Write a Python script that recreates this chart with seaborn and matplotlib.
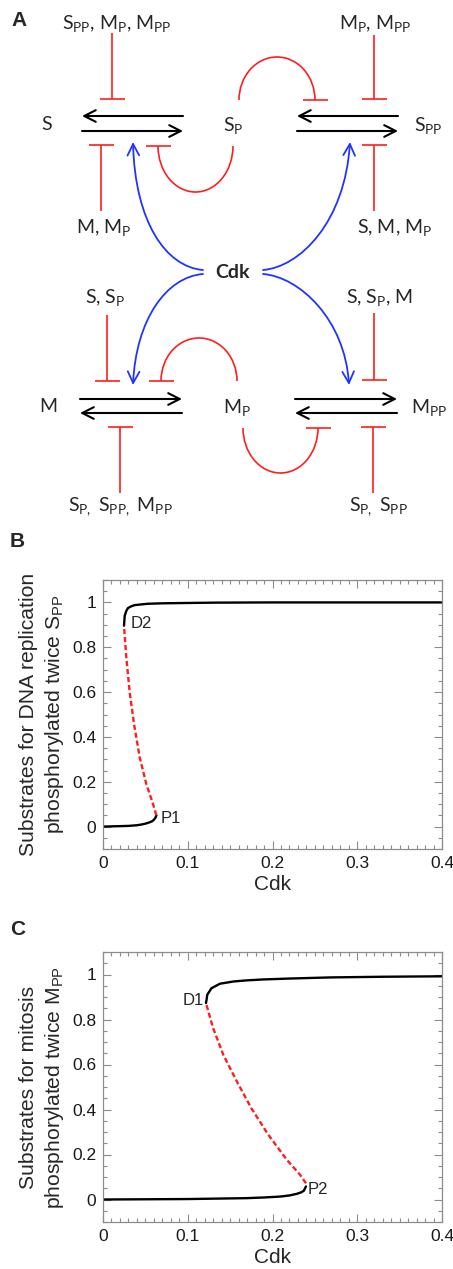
import matplotlib
matplotlib.use("Agg")
import matplotlib.pyplot as plt
import seaborn as sns
from matplotlib.patches import Arc, FancyArrowPatch
from matplotlib.path import Path
from matplotlib.ticker import MultipleLocator

# ---------------------------------------------------------------------------
# Panel A: network diagram (positions in image pixels, y down)
# ---------------------------------------------------------------------------
node_labels = ["S", "S$_{P}$", "S$_{PP}$", "M", "M$_{P}$", "M$_{PP}$"]
node_x = [47, 233, 428, 48, 237, 429]
node_y = [125, 126, 125, 407, 408, 407]

# reversible reactions drawn as two opposite arrows
rxn_tail_x = [183, 82, 398, 297, 80, 182, 295, 397]
rxn_head_x = [82, 183, 297, 398, 182, 80, 397, 295]
rxn_y = [116, 131, 116, 131, 399, 413, 399, 413]

# inhibitions by other species
inh_x = [112, 374, 101, 374, 107, 374, 120, 373]
inh_bar_y = [99, 99, 145, 145, 381, 380, 427, 427]
inh_end_y = [33, 35, 211, 211, 315, 313, 493, 493]
inh_labels = ["S$_{PP}$, M$_{P}$, M$_{PP}$", "M$_{P}$, M$_{PP}$",
              "M, M$_{P}$", "S, M, M$_{P}$",
              "S, S$_{P}$", "S, S$_{P}$, M",
              "S$_{P,}$ S$_{PP,}$ M$_{PP}$", "S$_{P,}$ S$_{PP}$"]
inh_label_x = [117, 375, 104, 395, 105, 380, 120, 378]
inh_label_y = [23, 23, 227, 227, 297, 297, 507, 507]

# self-inhibition loops from the intermediates
fb_cx = [277, 195.5, 199, 280.5]
fb_rx = [38, 37.5, 38, 37.5]
fb_base = [100, 146, 381, 428]
fb_peak = [57, 192, 338, 473]
fb_bar_x = [315, 158, 161, 318]

# Cdk activation (cubic curves)
cdk_pos = (233, 272)
cdk_curves = [
    [(203, 270), (166, 267), (135, 222), (133, 142)],
    [(263, 270), (300, 267), (345, 222), (350, 142)],
    [(203, 274), (166, 277), (136, 320), (133, 385)],
    [(263, 274), (300, 277), (345, 320), (349, 385)],
]

# ---------------------------------------------------------------------------
# Panels B, C: bifurcation diagrams
# ---------------------------------------------------------------------------
b_lower_x = [0.0, 0.01, 0.02, 0.03, 0.04, 0.045, 0.05, 0.055, 0.058, 0.060, 0.062, 0.063]
b_lower_y = [0.0, 0.001, 0.002, 0.003, 0.006, 0.009, 0.013, 0.019, 0.024, 0.030, 0.040, 0.050]
b_unst_x = [0.063, 0.0621, 0.059, 0.0511, 0.0433, 0.0366, 0.0315, 0.0275, 0.0248]
b_unst_y = [0.050, 0.061, 0.101, 0.190, 0.309, 0.458, 0.599, 0.755, 0.896]
b_upper_x = [0.0248, 0.0256, 0.0275, 0.0295, 0.0335, 0.0374, 0.045, 0.053, 0.07,
             0.0885, 0.11, 0.132, 0.2, 0.3, 0.4]
b_upper_y = [0.896, 0.94, 0.962, 0.975, 0.983, 0.988, 0.991, 0.994, 0.996,
             0.997, 0.998, 0.999, 1.0, 1.0, 1.0]

c_lower_x = [0.0, 0.05, 0.1, 0.1695, 0.19, 0.209, 0.22, 0.2285, 0.234, 0.237, 0.2395]
c_lower_y = [0.0, 0.001, 0.002, 0.006, 0.009, 0.013, 0.018, 0.025, 0.032, 0.039, 0.058]
c_unst_x = [0.2395, 0.2325, 0.217, 0.195, 0.175, 0.158, 0.142, 0.130, 0.1255, 0.1215]
c_unst_y = [0.072, 0.110, 0.176, 0.288, 0.406, 0.524, 0.643, 0.761, 0.82, 0.873]
c_upper_x = [0.1215, 0.1225, 0.123, 0.128, 0.138, 0.154, 0.17, 0.189, 0.22, 0.268, 0.33, 0.4]
c_upper_y = [0.873, 0.895, 0.91, 0.939, 0.959, 0.969, 0.974, 0.978, 0.982, 0.987, 0.990, 0.992]

x_ticks = [0, 0.1, 0.2, 0.3, 0.4]
x_ticklabels = ["0", "0.1", "0.2", "0.3", "0.4"]
y_ticks = [0, 0.2, 0.4, 0.6, 0.8, 1.0]
y_ticklabels = ["0", "0.2", "0.4", "0.6", "0.8", "1"]

RED = "#ff1e1e"
BLUE = "#1f35ff"
FRAME = "#8c8c8c"

sns.set_style("white")
plt.rcParams["font.family"] = ["Liberation Sans", "DejaVu Sans"]
plt.rcParams["mathtext.default"] = "regular"

W, H = 453, 1269
fig = plt.figure(figsize=(W / 100, H / 100), dpi=100)

# full-figure canvas in pixel units for the diagram and panel letters
ax_a = fig.add_axes([0, 0, 1, 1])
ax_a.set_xlim(0, W)
ax_a.set_ylim(H, 0)
ax_a.axis("off")

diag_font = dict(family=["Lato", "DejaVu Sans"], fontsize=14)

for lab, x, y in zip(node_labels, node_x, node_y):
    ax_a.text(x, y, lab, ha="center", va="center", **diag_font)

for tx, hx, y in zip(rxn_tail_x, rxn_head_x, rxn_y):
    ax_a.add_patch(FancyArrowPatch((tx, y), (hx, y), arrowstyle="->,head_length=0.55,head_width=0.28",
                                   mutation_scale=15, shrinkA=0, shrinkB=0, lw=1.5, color="black"))

for x, by, ey, lab, lx, ly in zip(inh_x, inh_bar_y, inh_end_y, inh_labels, inh_label_x, inh_label_y):
    ax_a.plot([x, x], [by, ey], color=RED, lw=1.2, solid_capstyle="butt")
    ax_a.plot([x - 12.5, x + 12.5], [by, by], color=RED, lw=1.2, solid_capstyle="butt")
    ax_a.text(lx, ly, lab, ha="center", va="center", **diag_font)

for cx, rx, base, peak, bx in zip(fb_cx, fb_rx, fb_base, fb_peak, fb_bar_x):
    ry = abs(peak - base)
    # y axis is inverted: upward loops live at angles 180..360
    t1, t2 = (180, 360) if peak < base else (0, 180)
    ax_a.add_patch(Arc((cx, base), 2 * rx, 2 * ry, theta1=t1, theta2=t2, color=RED, lw=1.2))
    ax_a.plot([bx - 12.5, bx + 12.5], [base, base], color=RED, lw=1.2, solid_capstyle="butt")

for verts in cdk_curves:
    path = Path(verts, [Path.MOVETO, Path.CURVE4, Path.CURVE4, Path.CURVE4])
    ax_a.add_patch(FancyArrowPatch(path=path, arrowstyle="->,head_length=0.55,head_width=0.28",
                                   mutation_scale=15, lw=1.3, color=BLUE))
ax_a.text(cdk_pos[0], cdk_pos[1], "Cdk", ha="center", va="center", fontweight="bold", **diag_font)

for lab, x, y in [("A", 11, 11), ("B", 10, 532), ("C", 10, 920)]:
    ax_a.text(x, y, lab, ha="left", va="top", fontsize=15, fontweight="bold")


def bifurcation(rect, lower, unstable, upper, ylabel, labels):
    ax = fig.add_axes(rect)
    sns.lineplot(x=lower[0], y=lower[1], sort=False, estimator=None, color="black", lw=1.7, ax=ax)
    sns.lineplot(x=upper[0], y=upper[1], sort=False, estimator=None, color="black", lw=1.7, ax=ax)
    sns.lineplot(x=unstable[0], y=unstable[1], sort=False, estimator=None, color=RED, lw=1.7,
                 linestyle=(0, (2.2, 1.2)), ax=ax)
    for txt, x, y, ha in labels:
        ax.text(x, y, txt, ha=ha, va="center", fontsize=12)
    ax.set_xlim(0, 0.4)
    ax.set_ylim(-0.1, 1.1)
    ax.set_xticks(x_ticks)
    ax.set_xticklabels(x_ticklabels)
    ax.set_yticks(y_ticks)
    ax.set_yticklabels(y_ticklabels)
    ax.xaxis.set_minor_locator(MultipleLocator(0.01))
    ax.yaxis.set_minor_locator(MultipleLocator(0.05))
    ax.tick_params(which="both", direction="in", bottom=True, left=True, top=True, right=True,
                   color=FRAME, labelsize=12.5, labelcolor="#1a1a1a", width=0.8)
    ax.tick_params(which="major", length=5.5, pad=5)
    ax.tick_params(which="minor", length=3)
    for sp in ax.spines.values():
        sp.set_color(FRAME)
        sp.set_linewidth(0.9)
    ax.set_xlabel("Cdk", fontsize=15, labelpad=3)
    ax.set_ylabel(ylabel, fontsize=15.2, linespacing=1.3)
    ax.yaxis.set_label_coords(-0.11, 0.5)
    return ax


bifurcation([103 / W, 1 - 849 / H, 339 / W, 269 / H],
            (b_lower_x, b_lower_y), (b_unst_x, b_unst_y), (b_upper_x, b_upper_y),
            "Substrates for DNA replication\nphosphorylated twice S$_{PP}$",
            [("D2", 0.033, 0.905, "left"), ("P1", 0.068, 0.034, "left")])

bifurcation([103 / W, 1 - 1222 / H, 339 / W, 270 / H],
            (c_lower_x, c_lower_y), (c_unst_x, c_unst_y), (c_upper_x, c_upper_y),
            "Substrates for mitosis\nphosphorylated twice M$_{PP}$",
            [("D1", 0.1185, 0.883, "right"), ("P2", 0.242, 0.043, "left")])

fig.savefig("out.png", dpi=100)
